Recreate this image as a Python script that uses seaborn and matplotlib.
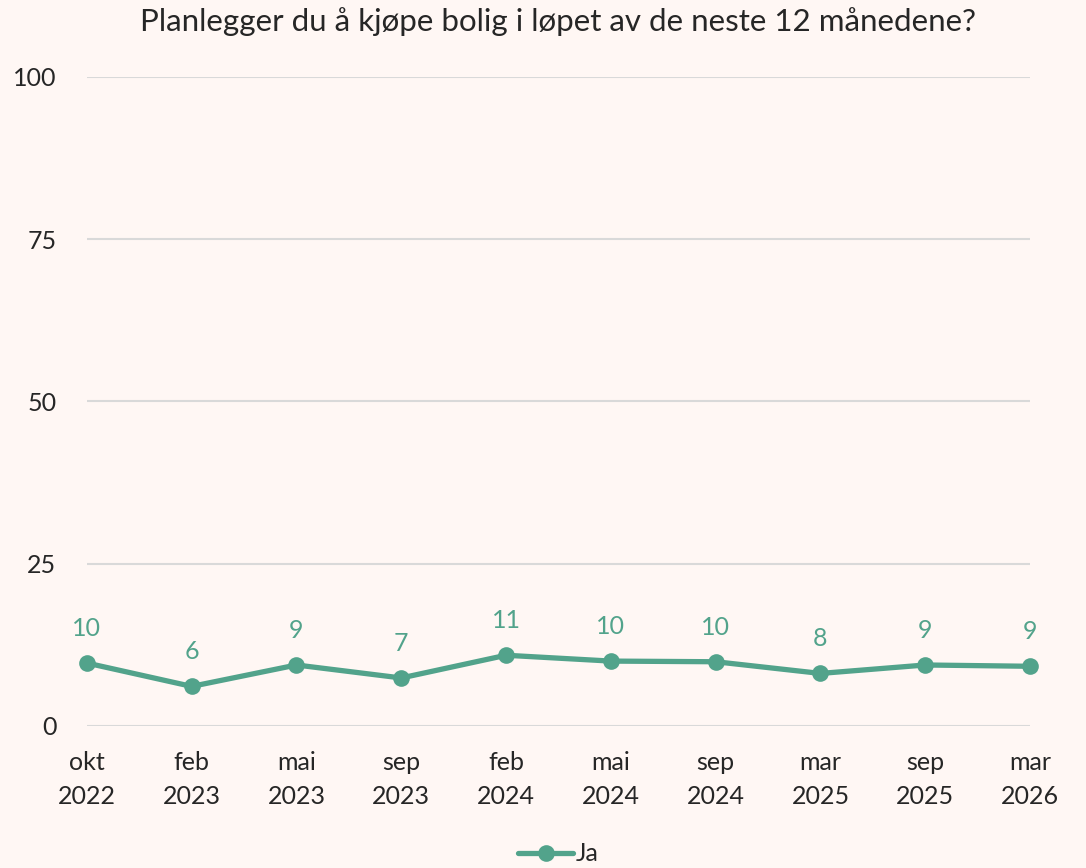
import pandas as pd
import matplotlib.pyplot as plt
import seaborn as sns

## Data
periods = ["okt\n2022", "feb\n2023", "mai\n2023", "sep\n2023", "feb\n2024",
           "mai\n2024", "sep\n2024", "mar\n2025", "sep\n2025", "mar\n2026"]
ja_values = [9.7, 6.1, 9.4, 7.4, 10.9, 10.0, 9.9, 8.1, 9.4, 9.2]
y_ticks = [0, 25, 50, 75, 100]

bg = "#FFF7F4"
teal = "#52A38B"
text_col = "#262626"

sns.set_theme(style="white")
plt.rcParams["font.family"] = ["Lato", "DejaVu Sans"]

df = pd.DataFrame({"pos": range(len(periods)), "value": ja_values, "serie": "Ja"})

fig = plt.figure(figsize=(10.86, 8.68), dpi=100, facecolor=bg)
ax = fig.add_axes([0.080, 0.1636, 0.8685, 0.7477])
ax.set_facecolor(bg)

for t in y_ticks:
    ax.axhline(t, color="#D9D9D9", linewidth=1.5, zorder=0)

sns.lineplot(data=df, x="pos", y="value", hue="serie", palette=[teal],
             marker="o", markersize=12, markeredgewidth=0, linewidth=3.8,
             ax=ax, clip_on=False, zorder=3)

for x, v in zip(df["pos"], df["value"]):
    ax.annotate(f"{v:.0f}", (x, v), xytext=(0, 25), textcoords="offset points",
                ha="center", va="center", color=teal, fontsize=18)

ax.set_xlim(0, len(periods) - 1)
ax.set_ylim(0, 100)
ax.set_xticks(range(len(periods)))
ax.set_xticklabels(periods, fontsize=18, color=text_col, linespacing=1.6)
ax.set_yticks(y_ticks)
ax.set_yticklabels([str(t) for t in y_ticks], fontsize=18, color=text_col)
ax.tick_params(axis="x", length=0, pad=18)
ax.tick_params(axis="y", length=0, pad=22)
ax.set_xlabel("")
ax.set_ylabel("")
sns.despine(ax=ax, left=True, bottom=True)

ax.set_title("Planlegger du å kjøpe bolig i løpet av de neste 12 månedene?",
             fontsize=22.5, color=text_col, pad=33)

leg = ax.legend(loc="center", bbox_to_anchor=(0.5, -0.197), frameon=False,
                fontsize=18, handlelength=2.2, handletextpad=0.1)
for txt in leg.get_texts():
    txt.set_color(text_col)

fig.savefig("out.png", dpi=100, facecolor=bg)
